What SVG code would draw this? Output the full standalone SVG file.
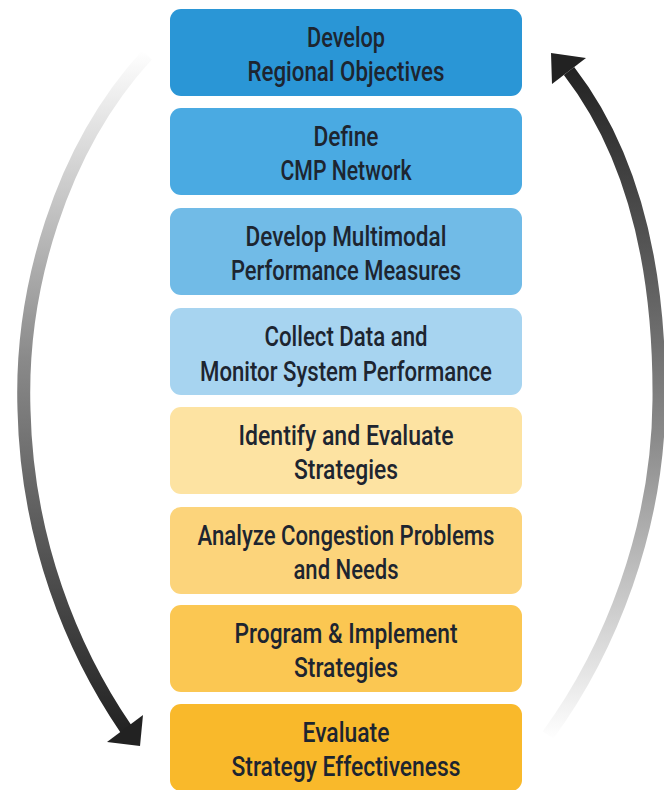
<svg xmlns="http://www.w3.org/2000/svg" width="664" height="790" viewBox="0 0 664 790">
<style>
.box{stroke:none}
.t{font-family:Roboto,"Liberation Sans",sans-serif;font-weight:500;font-size:28px;fill:#1d2530;text-anchor:middle}
</style>
<defs>
<linearGradient id="gl" gradientUnits="userSpaceOnUse" x1="0" y1="50" x2="0" y2="735">
<stop offset="0" stop-color="#ffffff"/>
<stop offset="0.45" stop-color="#8a8a8a"/>
<stop offset="1" stop-color="#222222"/>
</linearGradient>
<linearGradient id="gr" gradientUnits="userSpaceOnUse" x1="0" y1="740" x2="0" y2="65">
<stop offset="0" stop-color="#ffffff"/>
<stop offset="0.45" stop-color="#8a8a8a"/>
<stop offset="1" stop-color="#222222"/>
</linearGradient>
</defs>
<rect width="664" height="790" fill="#ffffff"/>
<g id="connectors">
<path d="M147,55 C60,150 20,290 24,410 C27,540 72,650 126,729" fill="none" stroke="url(#gl)" stroke-width="13"/>
<polygon points="140,746 143,715 107,742" fill="#222222"/>
<path d="M548,735 C610,650 658,530 659,400 C660,260 630,150 569,71" fill="none" stroke="url(#gr)" stroke-width="13"/>
<polygon points="551,53 586,58 552,84" fill="#222222"/>
</g>
<g id="n1"><rect class="box" x="170" y="9" width="352" height="87" rx="11" fill="#2a96d6"/>
<text class="t" x="346" y="47" textLength="78" lengthAdjust="spacingAndGlyphs">Develop</text>
<text class="t" x="346" y="81" textLength="197" lengthAdjust="spacingAndGlyphs">Regional Objectives</text></g>
<g id="n2"><rect class="box" x="170" y="108" width="352" height="87" rx="11" fill="#4aaae2"/>
<text class="t" x="346" y="146" textLength="65" lengthAdjust="spacingAndGlyphs">Define</text>
<text class="t" x="346" y="180" textLength="131" lengthAdjust="spacingAndGlyphs">CMP Network</text></g>
<g id="n3"><rect class="box" x="170" y="208" width="352" height="87" rx="11" fill="#71bbe7"/>
<text class="t" x="346" y="246" textLength="201" lengthAdjust="spacingAndGlyphs">Develop Multimodal</text>
<text class="t" x="346" y="280" textLength="230" lengthAdjust="spacingAndGlyphs">Performance Measures</text></g>
<g id="n4"><rect class="box" x="170" y="308" width="352" height="87" rx="11" fill="#a7d4f0"/>
<text class="t" x="346" y="346" textLength="163" lengthAdjust="spacingAndGlyphs">Collect Data and</text>
<text class="t" x="346" y="381" textLength="292" lengthAdjust="spacingAndGlyphs">Monitor System Performance</text></g>
<g id="n5"><rect class="box" x="170" y="407" width="352" height="87" rx="11" fill="#fde3a2"/>
<text class="t" x="346" y="445" textLength="215" lengthAdjust="spacingAndGlyphs">Identify and Evaluate</text>
<text class="t" x="346" y="479" textLength="104" lengthAdjust="spacingAndGlyphs">Strategies</text></g>
<g id="n6"><rect class="box" x="170" y="507" width="352" height="87" rx="11" fill="#fcd47b"/>
<text class="t" x="346" y="545" textLength="297" lengthAdjust="spacingAndGlyphs">Analyze Congestion Problems</text>
<text class="t" x="346" y="579" textLength="105" lengthAdjust="spacingAndGlyphs">and Needs</text></g>
<g id="n7"><rect class="box" x="170" y="605" width="352" height="87" rx="11" fill="#fbc752"/>
<text class="t" x="346" y="643" textLength="223" lengthAdjust="spacingAndGlyphs">Program &amp; Implement</text>
<text class="t" x="346" y="677" textLength="104" lengthAdjust="spacingAndGlyphs">Strategies</text></g>
<g id="n8"><rect class="box" x="170" y="704" width="352" height="87" rx="11" fill="#f9b92b"/>
<text class="t" x="346" y="742" textLength="87" lengthAdjust="spacingAndGlyphs">Evaluate</text>
<text class="t" x="346" y="776" textLength="229" lengthAdjust="spacingAndGlyphs">Strategy Effectiveness</text></g>
</svg>
